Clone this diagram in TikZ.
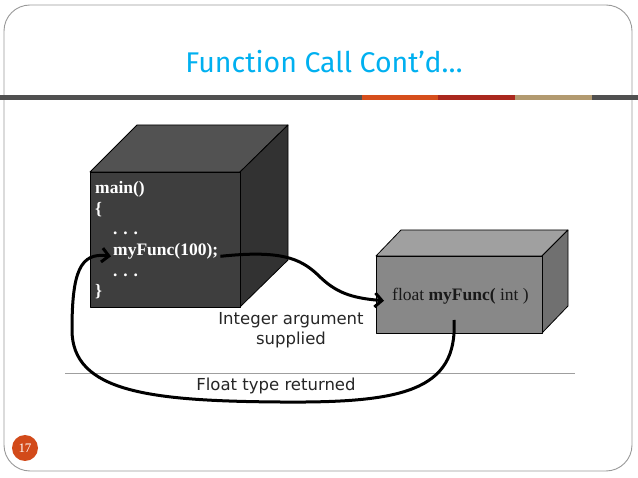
\documentclass[tikz,border=0pt]{standalone}
\usepackage{fontspec}
\setmainfont{Liberation Serif}
\newfontfamily\labelfont{DejaVu Sans}
\newfontfamily\titlefont{Fira Sans}
\usetikzlibrary{arrows.meta}
\definecolor{titleblue}{RGB}{0,176,240}
\definecolor{barorange}{RGB}{214,78,28}
\definecolor{barred}{RGB}{170,40,30}
\definecolor{bartan}{RGB}{178,154,112}
\definecolor{bardark}{RGB}{80,80,80}
\definecolor{numorange}{RGB}{210,74,26}
\tikzset{
  codewhite/.style={anchor=base west, text=white, font=\fontsize{17.5}{20}\selectfont\bfseries, inner sep=0pt},
  lbl/.style={font=\labelfont\fontsize{16.5}{20}\selectfont, text=black!85, inner sep=0pt, align=center},
  flowarrow/.style={line width=3pt, -{Straight Barb[length=7pt,width=14pt,line width=3pt]}},
  cubeedge/.style={draw=black, line width=0.8pt, line join=round}
}
\begin{document}
\begin{tikzpicture}[x=1pt,y=-1pt]
\useasboundingbox (0,0) rectangle (638,478);
\fill[white] (0,0) rectangle (638,478);
% frame
\draw[gray!80, line width=0.9pt, rounded corners=26pt] (4,5) rectangle (632,471);
% title
\node[text=titleblue, font=\titlefont\fontsize{28.5}{32}\selectfont] (title) at (324,62) {Function Call Cont’d…};
% bar
\fill[bardark] (0,95) rectangle (362,100);
\fill[barorange] (362,95) rectangle (438,100);
\fill[barred] (438,95) rectangle (515,100);
\fill[bartan] (515,95) rectangle (592,100);
\fill[bardark] (592,95) rectangle (638,100);
% main cube
\fill[cubeedge, fill={rgb,255:red,82;green,82;blue,82}] (90,172) -- (137,125) -- (288,125) -- (240,172) -- cycle;
\fill[cubeedge, fill={rgb,255:red,50;green,50;blue,50}] (240,172) -- (288,125) -- (288,260) -- (240,307) -- cycle;
\fill[cubeedge, fill={rgb,255:red,62;green,62;blue,62}] (90,172) rectangle (240,307);
\node[codewhite] (l1) at (95,194) {main()};
\node[codewhite] (l2) at (95,215) {\{};
\node[codewhite] (l3) at (113,235) {. . .};
\node[codewhite] (call) at (113,255.5) {myFunc(100);};
\node[codewhite] (l5) at (113,276.5) {. . .};
\node[codewhite] (l6) at (95,297) {\}};
% small cube
\fill[cubeedge, fill={rgb,255:red,160;green,160;blue,160}] (376,256) -- (401,230) -- (568,230) -- (542,256) -- cycle;
\fill[cubeedge, fill={rgb,255:red,112;green,112;blue,112}] (542,256) -- (568,230) -- (568,306) -- (542,333) -- cycle;
\fill[cubeedge, fill={rgb,255:red,136;green,136;blue,136}] (376,256) rectangle (542,333);
\node[anchor=base west, inner sep=0pt, text=black!90, font=\fontsize{17.5}{20}\selectfont] (proto) at (392,301) {float \textbf{myFunc(} int )};
% separator line
\draw[gray!75, line width=0.9pt] (65,373) -- (575,373);
% labels
\node[lbl, anchor=base] (arglbl) at (291,345) {Integer argument\\supplied};
\node[lbl, anchor=base] (retlbl) at (276,391) {Float type returned};
% arrows
\coordinate (retstart) at (454,320);
\draw[flowarrow] ([xshift=2pt,yshift=-5pt]call.east) .. controls (280,250) and (300,258) .. (318,275)
  .. controls (335,292) and (350,298) .. ([xshift=-8pt,yshift=-4pt]proto.west);
\draw[flowarrow] (retstart) .. controls (458,392) and (400,403) .. (280,402)
  .. controls (150,401) and (72,392) .. (72,330)
  .. controls (72,272) and (80,252) .. ([xshift=-2pt,yshift=-5pt]call.west);
% page number
\fill[numorange] (25,448) circle (13);
\node[text=white, font=\fontsize{13}{15}\selectfont] (pnum) at (25,448) {17};
\end{tikzpicture}
\end{document}
